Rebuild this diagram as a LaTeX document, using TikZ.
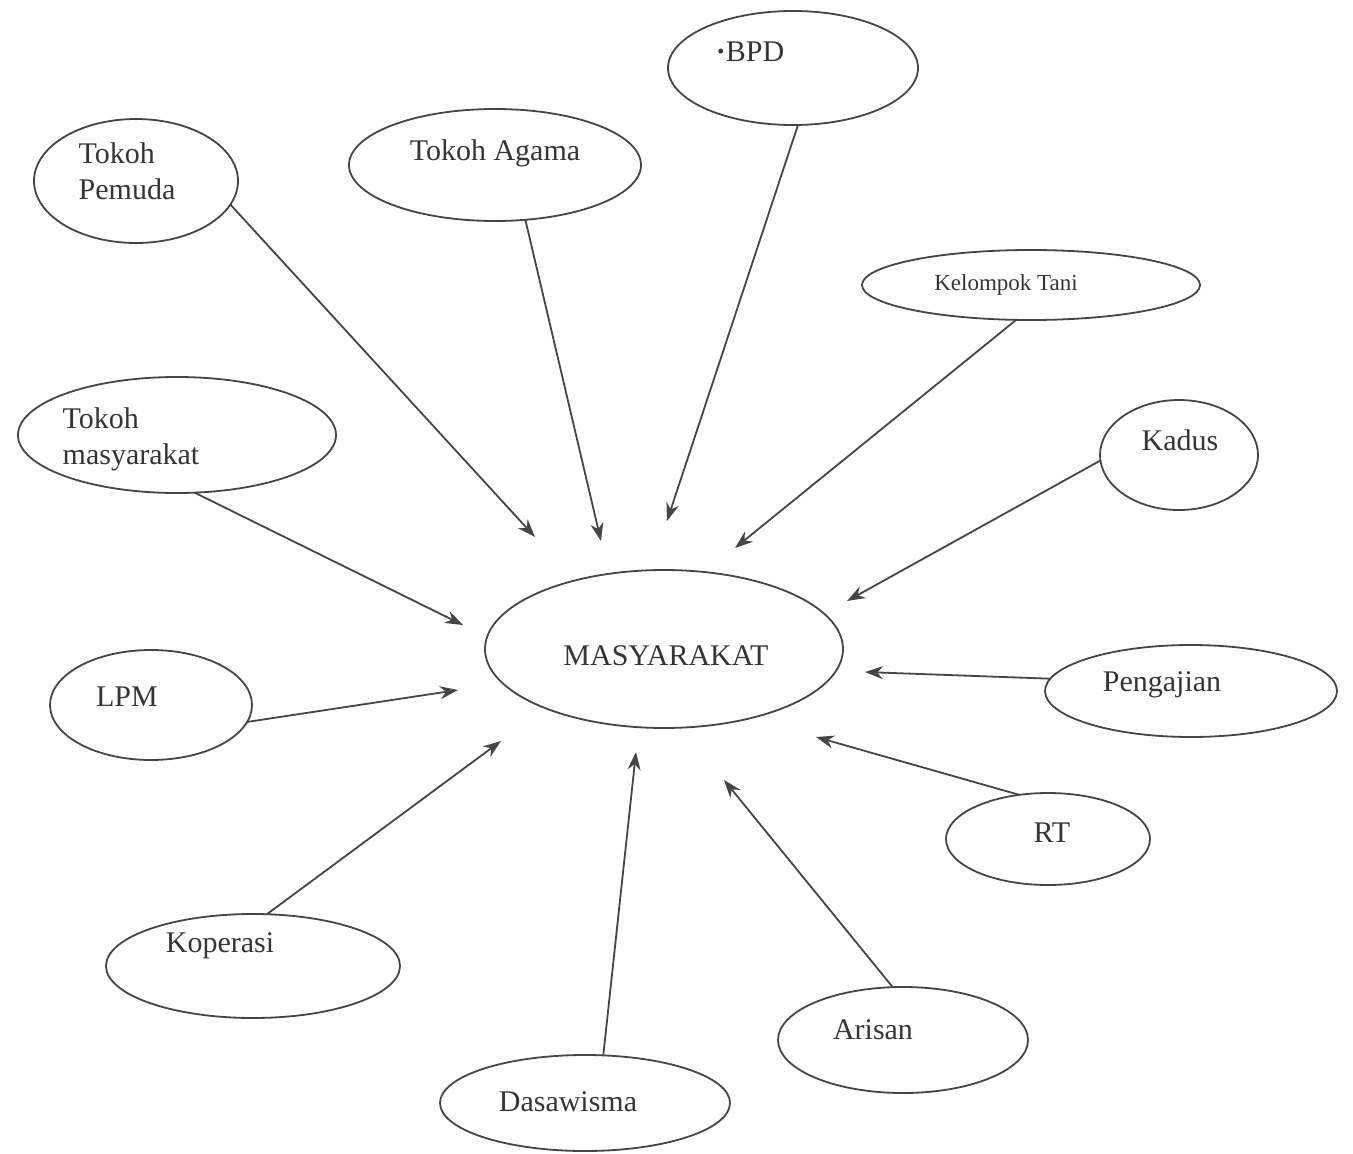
\documentclass[tikz,border=0pt]{standalone}
\usepackage{fontspec}
\setmainfont{Liberation Serif}
\usetikzlibrary{shapes.geometric,arrows.meta}
\definecolor{ink}{HTML}{454545}
\definecolor{txt}{HTML}{353535}
\tikzset{
  oval/.style={ellipse,draw=ink,line width=1.8pt,inner sep=0pt,outer sep=0pt},
  lbl/.style={text=txt,font=\fontsize{30}{36}\selectfont,align=left,inner sep=0pt},
  conn/.style={draw=ink,line width=1.8pt,-{Stealth[length=18pt,width=13pt]}}
}
\begin{document}
\begin{tikzpicture}[x=1pt,y=-1pt]
\useasboundingbox[fill=white] (0,0) rectangle (1353,1154);
% ellipses
\node[oval,minimum width=204pt,minimum height=124pt] (tp) at (136,181) {};
\node[oval,minimum width=292pt,minimum height=112pt] (ta) at (495,165) {};
\node[oval,minimum width=250pt,minimum height=114pt] (bpd) at (793,68) {};
\node[oval,minimum width=338pt,minimum height=70pt] (kt) at (1031,285) {};
\node[oval,minimum width=158pt,minimum height=110pt] (kd) at (1179,455) {};
\node[oval,minimum width=318pt,minimum height=116pt] (tm) at (177,435) {};
\node[oval,minimum width=358pt,minimum height=158pt] (ms) at (664,649) {};
\node[oval,minimum width=202pt,minimum height=110pt] (lpm) at (151,705) {};
\node[oval,minimum width=292pt,minimum height=92pt] (pg) at (1191,691) {};
\node[oval,minimum width=204pt,minimum height=92pt] (rt) at (1048,839) {};
\node[oval,minimum width=294pt,minimum height=104pt] (kp) at (253,966) {};
\node[oval,minimum width=250pt,minimum height=106pt] (ar) at (903,1040) {};
\node[oval,minimum width=290pt,minimum height=96pt] (dw) at (585,1103) {};
% labels
\node[lbl] (tpL) at (127,171) {Tokoh\\Pemuda};
\node[lbl] (taL) at (495,153) {Tokoh Agama};
\node[lbl] (bpdL) at (750,52) {\textbf{\textperiodcentered}BPD};
\node[lbl,font=\fontsize{23}{28}\selectfont] (ktL) at (1006,285) {Kelompok Tani};
\node[lbl] (kdL) at (1180,440) {Kadus};
\node[lbl] (tmL) at (131,439) {Tokoh\\masyarakat};
\node[lbl] (msL) at (666,656) {MASYARAKAT};
\node[lbl] (lpmL) at (127,697) {LPM};
\node[lbl] (pgL) at (1162,685) {Pengajian};
\node[lbl] (rtL) at (1052,833) {RT};
\node[lbl] (kpL) at (220,946) {Koperasi};
\node[lbl] (arL) at (873,1030) {Arisan};
\node[lbl] (dwL) at (568,1102) {Dasawisma};
% arrow tips
\coordinate (e1) at (535,537);
\coordinate (e2) at (601,541);
\coordinate (e3) at (667,521);
\coordinate (e4) at (735,548);
\coordinate (e5) at (847,601);
\coordinate (e6) at (463,625);
\coordinate (e7) at (458,690);
\coordinate (e8) at (865,672);
\coordinate (e9) at (816,737);
\coordinate (e10) at (501,741);
\coordinate (e11) at (636,752);
\coordinate (e12) at (724,780);
% connectors
\draw[conn] (tp.-14) -- (e1);
\draw[conn] (ta.-61) -- (e2);
\draw[conn] (bpd.-85) -- (e3);
\draw[conn] (kt.-113) -- (e4);
\draw[conn] (kd.-176) -- (e5);
\draw[conn] (tm.-73) -- (e6);
\draw[conn] (lpm.-10) -- (e7);
\draw[conn] (pg.175.7) -- (e8);
\draw[conn] (rt.123) -- (e9);
\draw[conn] (kp.75.5) -- (e10);
\draw[conn] (dw.69.7) -- (e11);
\draw[conn] (ar.101.5) -- (e12);
\end{tikzpicture}
\end{document}
